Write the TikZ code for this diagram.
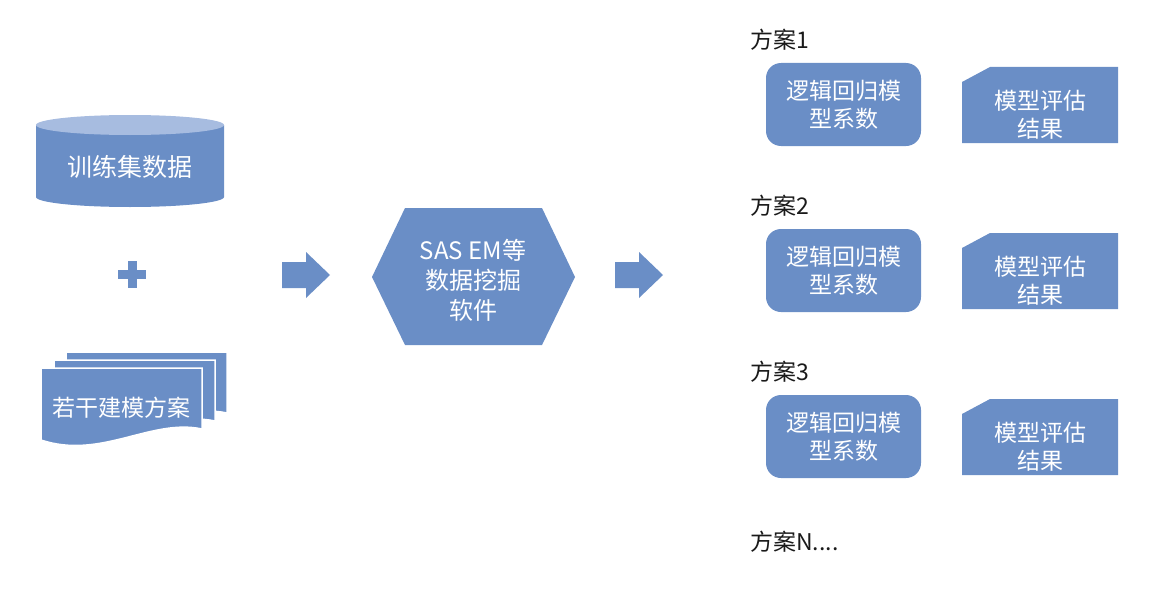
\documentclass[tikz,border=0pt]{standalone}
\usepackage{fontspec}
\setmainfont{Noto Sans CJK SC}
\usetikzlibrary{shapes,arrows}
\definecolor{boxblue}{RGB}{106,142,198}
\definecolor{topblue}{RGB}{167,188,224}
\definecolor{labelgray}{RGB}{26,26,26}
\tikzstyle{whitetext}=[text=white,font=\fontsize{23}{28}\selectfont,align=center,inner sep=0pt]
\tikzstyle{blacktext}=[text=labelgray,font=\fontsize{23}{28}\selectfont,anchor=west,inner sep=0pt]
\tikzstyle{coefbox}=[whitetext,fill=boxblue,rounded corners=15pt,minimum width=155pt,minimum height=83pt]
\newcommand{\blockarrow}[2]{
  \fill[boxblue] (#1,#2-13) -- (#1+24,#2-13) -- (#1+24,#2-23) -- (#1+48,#2)
    -- (#1+24,#2+23) -- (#1+24,#2+13) -- (#1,#2+13) -- cycle;
}
\newcommand{\doc}[2]{
  \filldraw[fill=boxblue, draw=white, line width=1.5pt] (#1,#2) -- (#1+161,#2) -- (#1+161,#2+61)
    .. controls (#1+110,#2+50) and (#1+60,#2+92) .. (#1,#2+72) -- cycle;
}
\newcommand{\fangan}[3]{
  \node[blacktext] (plan#1) at (750,40+#2) {#3};
  \node[coefbox] (coef#1) at (843.5,104.5+#2) {逻辑回归模\\型系数};
  \fill[boxblue] (962,82+#2) -- (990,67+#2) -- (1118,67+#2) -- (1118,143+#2) -- (962,143+#2) -- cycle;
  \node[whitetext] (eval#1) at (1040,115+#2) {模型评估\\结果};
}

\begin{document}
\begin{tikzpicture}[x=1pt,y=-1pt]
\useasboundingbox (0,0) rectangle (1164,602);

  % training data cylinder
  \fill[boxblue] (36,125) -- (36,197) arc[start angle=180, end angle=0, x radius=94, y radius=10] -- (224,125) -- cycle;
  \fill[topblue] (130,125) ellipse[x radius=94, y radius=10];
  \node[whitetext, font=\fontsize{25}{30}\selectfont] (train) at (130,167) {训练集数据};

  % plus
  \fill[boxblue] (118,270) rectangle (146,279);
  \fill[boxblue] (127.5,261) rectangle (136.5,288);

  % stacked documents
  \doc{66}{352}
  \doc{54}{360}
  \doc{41}{368}
  \node[whitetext] (plans) at (121,408) {若干建模方案};

  \blockarrow{282}{275}

  % software hexagon
  \fill[boxblue] (405,208) -- (542,208) -- (575,277) -- (542,345) -- (405,345) -- (372,277) -- cycle;
  \node[whitetext, font=\fontsize{24}{30}\selectfont] (soft) at (473,280) {SAS EM等\\数据挖掘\\软件};

  \blockarrow{615}{275}

  % schemes
  \fangan{1}{0}{方案1}
  \fangan{2}{166}{方案2}
  \fangan{3}{332}{方案3}
  \node[blacktext] (planN) at (750,542) {方案N....};

\end{tikzpicture}
\end{document}
